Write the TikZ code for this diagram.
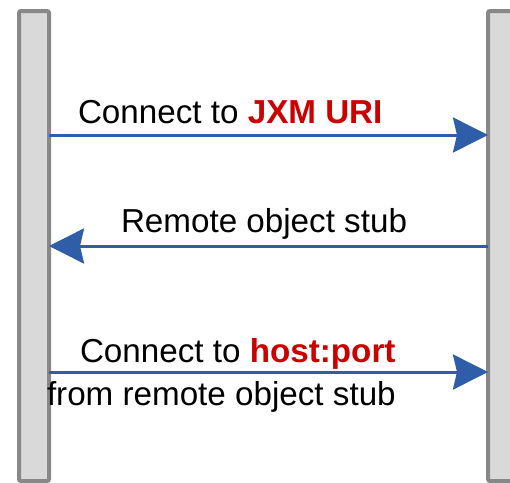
\documentclass[tikz,border=0pt]{standalone}
\usepackage{fontspec}
\setmainfont{Liberation Sans}
\usetikzlibrary{arrows.meta}
\definecolor{barfill}{RGB}{217,217,217}
\definecolor{barline}{RGB}{136,136,136}
\definecolor{msgblue}{RGB}{46,94,168}
\definecolor{hlred}{RGB}{204,0,0}
\tikzset{
  lifebar/.style={draw=barline, fill=barfill, line width=4pt, rounded corners=2pt,
    minimum width=30pt, minimum height=470pt, inner sep=0pt, outer sep=0pt},
  msg/.style={draw=msgblue, line width=3pt,
    -{Stealth[length=35pt, width=35pt, inset=4pt]}, shorten >=0pt},
  lbl/.style={inner sep=0pt, outer sep=0pt, anchor=base west,
    font=\fontsize{33.2}{40}\selectfont}
}
\newcommand{\hlt}[1]{\textcolor{hlred}{\bfseries #1}}
\begin{document}
\begin{tikzpicture}[x=1pt, y=-1pt]
\useasboundingbox (0,0) rectangle (510,482);
\clip (0,0) rectangle (510,482);
\node[lifebar] (lbar) at (34,246) {};
\node[lifebar] (rbar) at (503,246) {};
\coordinate (a1s) at (lbar.east |- 0,135);
\coordinate (a1e) at (rbar.west |- 0,135);
\coordinate (a2s) at (rbar.west |- 0,246);
\coordinate (a2e) at (lbar.east |- 0,246);
\coordinate (a3s) at (lbar.east |- 0,372);
\coordinate (a3e) at (rbar.west |- 0,372);
\draw[msg] (a1s) -- (a1e);
\draw[msg] (a2s) -- (a2e);
\draw[msg] (a3s) -- (a3e);
\node[lbl] (t1) at (78,123) {Connect to \hlt{JXM URI}};
\node[lbl] (t2) at (121,232) {Remote object stub};
\node[lbl] (t3) at (80,362) {Connect to \hlt{host:port}};
\node[lbl] (t4) at (47,405) {from remote object stub};
\end{tikzpicture}
\end{document}
